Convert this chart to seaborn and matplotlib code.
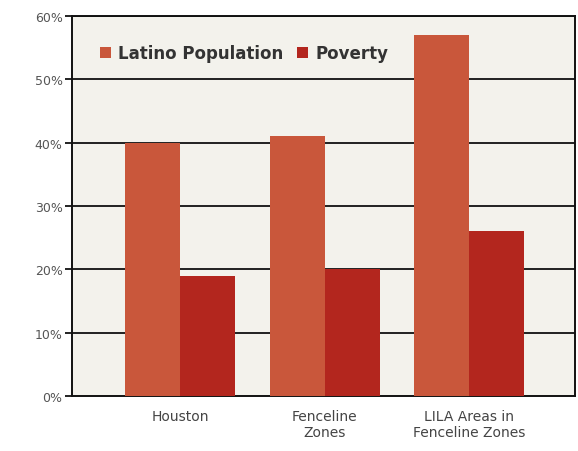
import seaborn as sns
import pandas as pd
import numpy as np
import matplotlib.pyplot as plt

# values (percent)
categories = ["Houston", "Fenceline\nZones", "LILA Areas in\nFenceline Zones"]
latino = [40, 41, 57]
poverty = [19, 20, 26]
series = ["Latino Population", "Poverty"]

df = pd.DataFrame({
    "cat": categories * 2,
    "val": latino + poverty,
    "series": [series[0]] * 3 + [series[1]] * 3,
})

sns.set_style("white")
plt.rcParams['font.family'] = ['DejaVu Sans']

fig = plt.figure(figsize=(5.78, 4.52), dpi=100)
ax = fig.add_axes([0.125, 0.122, 0.87, 0.84])
ax.set_facecolor("#f3f2ec")

pal = {"Latino Population": "#c9573b", "Poverty": "#b3261e"}
sns.barplot(data=df, x="cat", y="val", hue="series", palette=pal,
            width=0.76, saturation=1, linewidth=0, edgecolor="none",
            ax=ax, zorder=3)

ax.set_ylim(0, 60)
ax.set_xlim(-0.745, 2.73)
ax.set_yticks(range(0, 61, 10))
ax.set_yticklabels([f"{t}%" for t in range(0, 61, 10)])
for t in range(10, 61, 10):
    ax.axhline(t, color="#111111", lw=1.3, zorder=1)
for s in ax.spines.values():
    s.set_color("#111111")
    s.set_linewidth(1.4)
ax.tick_params(axis="y", left=True, length=5, width=1.3, color="#111111",
               labelsize=9, labelcolor="#555555", pad=2)
ax.tick_params(axis="x", bottom=False, labelsize=10, labelcolor="#444444", pad=6)
ax.set_xlabel("")
ax.set_ylabel("")

leg = ax.legend(loc="upper left", bbox_to_anchor=(0.025, 0.965), ncol=2, frameon=False,
                handlelength=0.7, handleheight=0.7, handletextpad=0.4,
                columnspacing=0.8, prop={"size": 12, "weight": "bold"})
for t in leg.get_texts():
    t.set_color("#333333")

fig.savefig("out.png", dpi=100, facecolor="white")
